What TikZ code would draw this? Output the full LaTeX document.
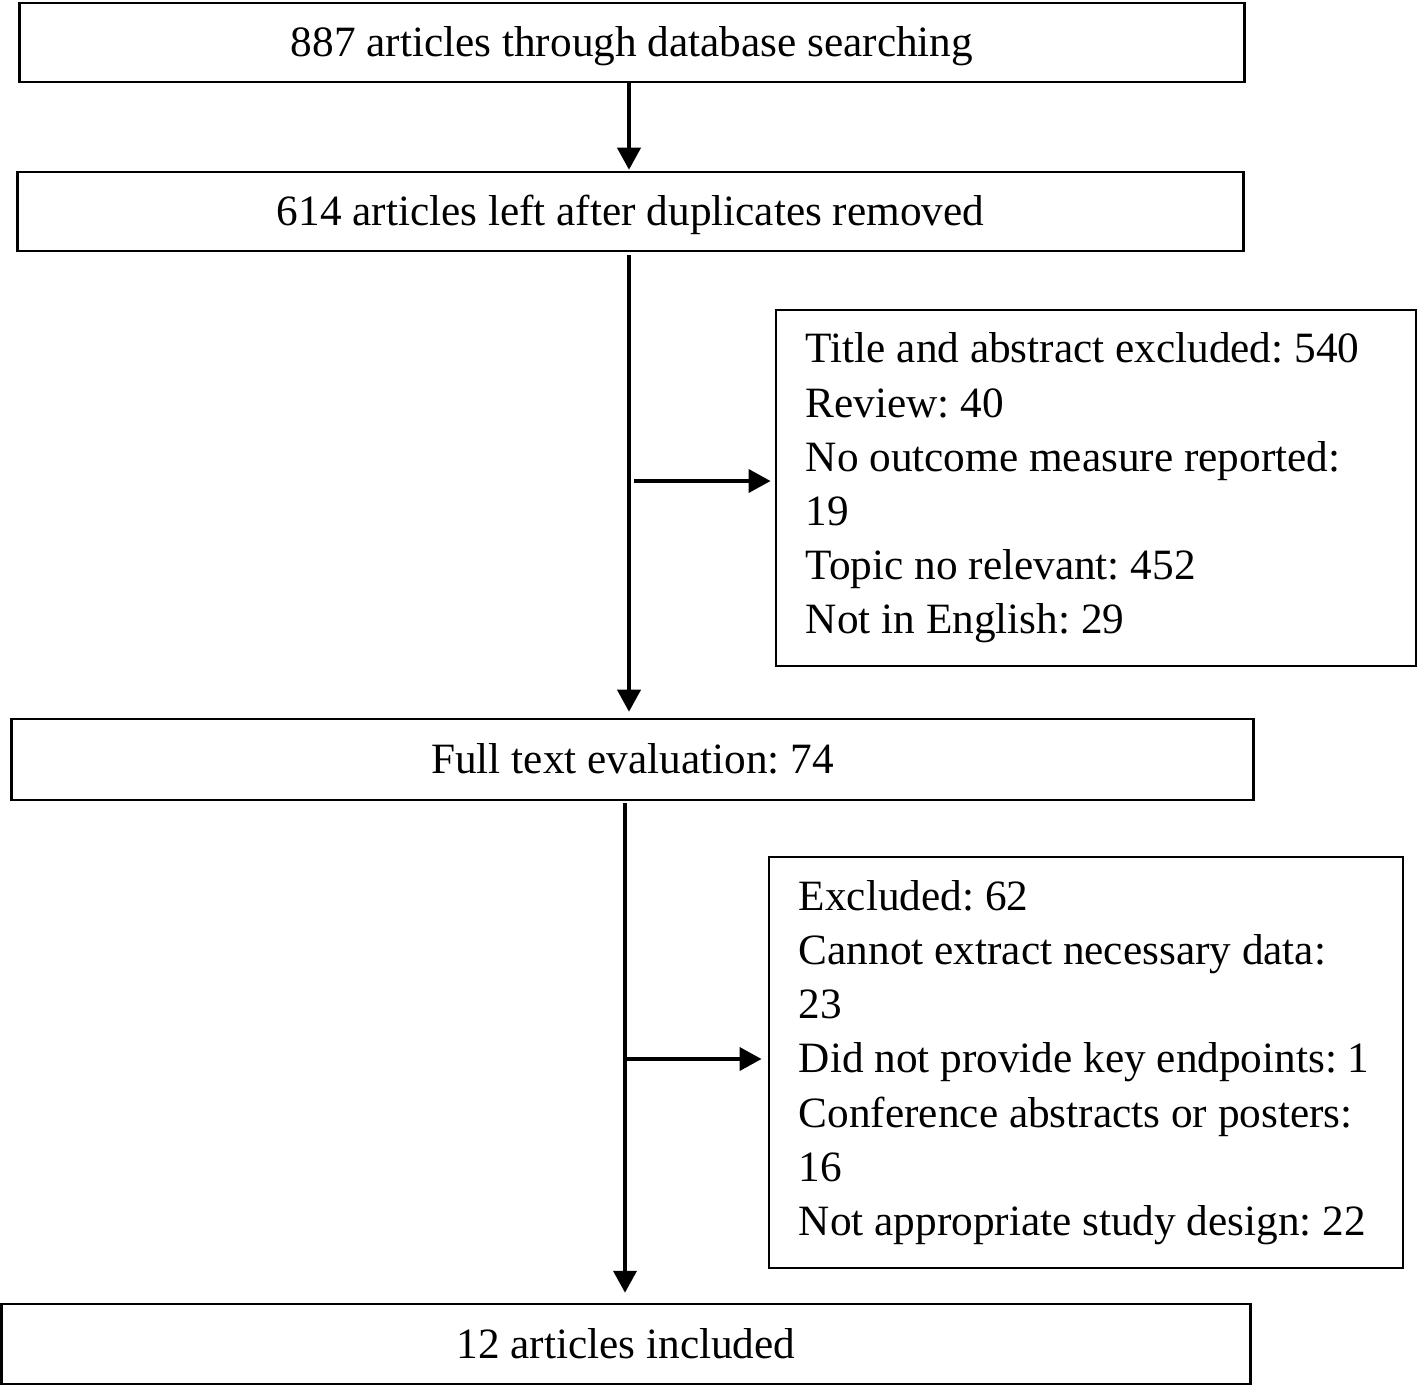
\documentclass[tikz,border=0pt]{standalone}
\usepackage{fontspec}
\setmainfont{Liberation Serif}
\usetikzlibrary{arrows.meta, positioning}
\tikzset{
  stagebox/.style={rectangle, draw=black, fill=white, line width=0.7pt,
    minimum height=0.8cm, text height=0.38cm, text depth=0.1cm,
    font=\fontsize{12.3}{15.4}\selectfont\frenchspacing},
  exclbox/.style={rectangle, draw=black, fill=white, line width=0.7pt,
    align=left, inner xsep=0.3cm, font=\fontsize{12.3}{15.4}\selectfont,
    execute at begin node={\frenchspacing\spaceskip=0pt\xspaceskip=0pt\relax}},
  flowarrow/.style={-{Triangle[length=0.22cm,width=0.23cm]}, line width=1.1pt}
}

\begin{document}
\begin{tikzpicture}[x=0.01cm, y=-0.01cm]
  \useasboundingbox (0,0) rectangle (1418,1387);
  % Stages
  \node[stagebox, minimum width=12.24cm, minimum height=0.79cm] (search) at (632,42.5) {887 articles through database searching};
  \node[stagebox, minimum width=12.25cm, minimum height=0.79cm] (dedup) at (630.5,211.5) {614 articles left after duplicates removed};
  \node[stagebox, minimum width=12.41cm, minimum height=0.81cm] (fulltext) at (632.5,759.5) {Full text evaluation: 74};
  \node[stagebox, minimum width=12.48cm, minimum height=0.8cm] (included) at (626,1344) {12 articles included};
  % Exclusions
  \node[exclbox, text width=5.8cm, minimum height=3.56cm] (excl1) at (1096,488) {Title and abstract excluded: 540\\ Review: 40\\ No outcome measure reported:\\ 19\\ Topic no relevant: 452\\ Not in English: 29};
  \node[exclbox, text width=5.74cm, minimum height=4.11cm] (excl2) at (1086,1062.5) {Excluded: 62\\ Cannot extract necessary data:\\ 23\\ Did not provide key endpoints: 1\\ Conference abstracts or posters:\\ 16\\ Not appropriate study design: 22};
  % Spines
  \coordinate (spine1) at (629,0);
  \coordinate (spine2) at (625,0);
  \coordinate (fork1) at (629,481);
  \coordinate (fork2) at (625,1059);
  % Arrows
  \draw[flowarrow, shorten >=0.01cm] (search.south -| spine1) -- (dedup.north -| spine1);
  \draw[flowarrow, shorten <=0.03cm, shorten >=0.06cm] (dedup.south -| spine1) -- (fulltext.north -| spine1);
  \draw[flowarrow, shorten <=0.05cm, shorten >=0.04cm] (fork1) -- (excl1.west |- fork1);
  \draw[flowarrow, shorten <=0.02cm, shorten >=0.1cm] (fulltext.south -| spine2) -- (included.north -| spine2);
  \draw[flowarrow, shorten >=0.06cm] (fork2) -- (excl2.west |- fork2);
\end{tikzpicture}
\end{document}
